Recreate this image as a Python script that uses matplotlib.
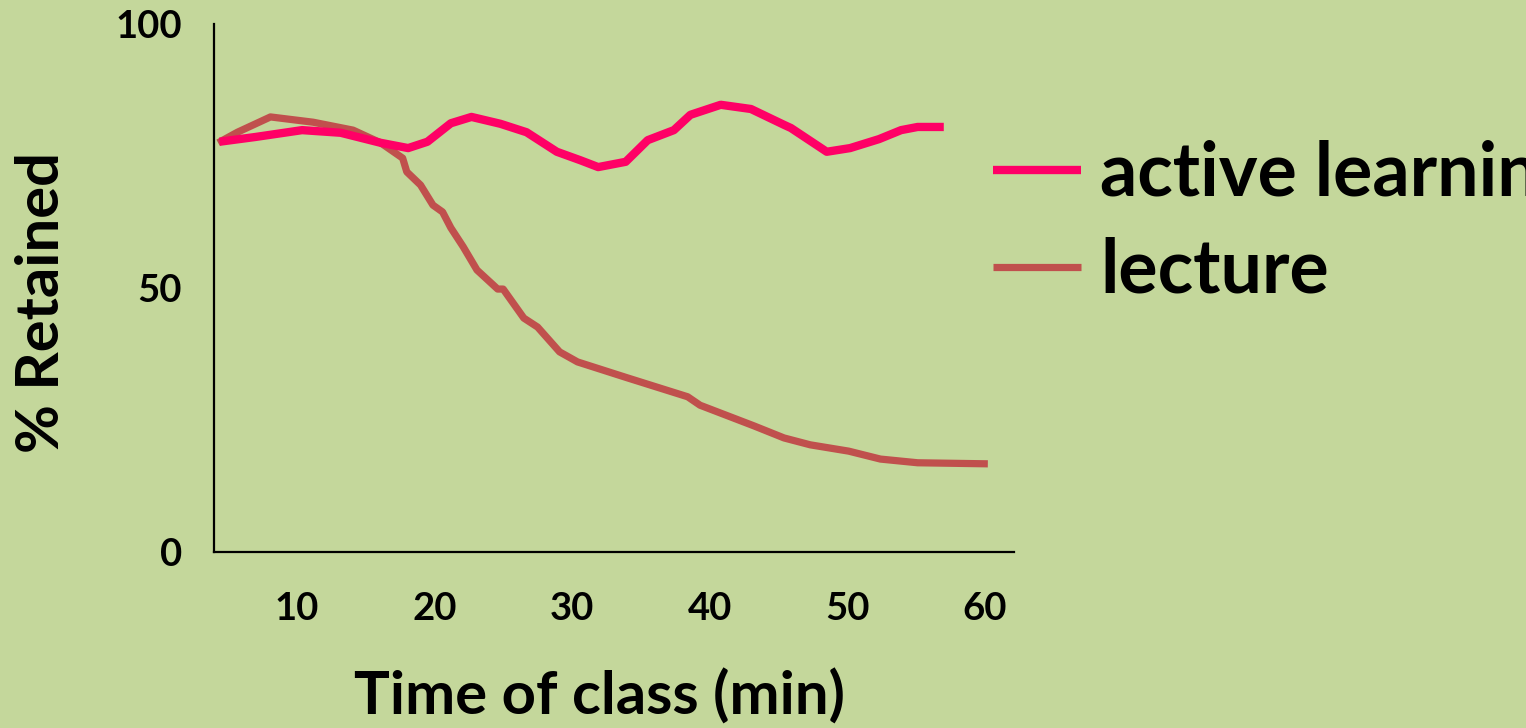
import matplotlib
matplotlib.use("Agg")
import matplotlib.pyplot as plt

# Data
active_x = [4.4, 7.0, 10.4, 13.2, 16.1, 18.1, 19.5, 21.2, 22.7, 24.8, 26.7, 28.9, 30.6,
            31.9, 33.9, 35.5, 37.4, 38.6, 40.8, 43.0, 45.4, 45.9, 48.5, 50.2, 52.3,
            53.9, 55.1, 57.0]
active_y = [77.7, 78.6, 79.9, 79.4, 77.5, 76.5, 77.7, 81.2, 82.4, 81.1, 79.5, 75.8, 74.2,
            72.9, 73.9, 78.0, 79.9, 82.8, 84.7, 83.9, 80.9, 80.3, 75.8, 76.5, 78.2,
            79.9, 80.5, 80.5]

lecture_x = [4.3, 5.7, 8.1, 11.2, 14.1, 16.1, 17.7, 18.0, 19.0, 19.9, 20.6, 21.2, 22.1,
             23.1, 24.6, 25.0, 26.5, 27.5, 29.1, 30.4, 34.0, 38.4, 39.3, 43.2, 45.4,
             47.3, 50.1, 52.4, 55.1, 60.2]
lecture_y = [77.5, 79.5, 82.4, 81.4, 79.9, 77.5, 74.6, 72.0, 69.5, 65.7, 64.4, 61.4, 57.8,
             53.4, 49.8, 49.8, 44.3, 42.6, 37.9, 36.0, 33.0, 29.4, 27.8, 23.9, 21.6,
             20.3, 19.1, 17.6, 16.9, 16.7]

series_labels = ["active learning", "lecture"]
x_ticks = [10, 20, 30, 40, 50, 60]
y_ticks = [0, 50, 100]
x_label = "Time of class (min)"
y_label = "% Retained"

BG = "#C4D79B"
ACTIVE = "#FF0066"
LECTURE = "#C0504D"

plt.rcParams['font.family'] = ['Lato', 'DejaVu Sans']
plt.rcParams['font.weight'] = 'bold'

W, H = 1526, 728
fig = plt.figure(figsize=(W / 100, H / 100), dpi=100, facecolor=BG)
ax = fig.add_axes([214 / W, (H - 552) / H, (1014 - 214) / W, (552 - 24) / H])
ax.set_facecolor(BG)

l1, = ax.plot(active_x, active_y, color=ACTIVE, lw=6, solid_capstyle='butt',
              solid_joinstyle='round', zorder=3)
l2, = ax.plot(lecture_x, lecture_y, color=LECTURE, lw=5.2, solid_capstyle='butt',
              solid_joinstyle='round', zorder=2)

ax.set_xlim(4, 62.1)
ax.set_ylim(0, 100)
ax.set_xticks(x_ticks)
ax.set_yticks(y_ticks)
ax.tick_params(axis='both', length=0, labelsize=27.5)
ax.tick_params(axis='x', pad=29)
ax.tick_params(axis='y', pad=23)
for lab in ax.get_xticklabels() + ax.get_yticklabels():
    lab.set_fontweight('bold')

for s in ['top', 'right']:
    ax.spines[s].set_visible(False)
for s in ['left', 'bottom']:
    ax.spines[s].set_linewidth(1.6)
    ax.spines[s].set_color('black')

fig.text(600 / W, 1 - 697 / H, x_label, ha='center', va='center',
         fontsize=43, fontweight='bold')
fig.text(42 / W, 1 - 302 / H, y_label, ha='center', va='center',
         fontsize=43, fontweight='bold', rotation=90)

leg = fig.legend([l1, l2], series_labels, loc='upper left',
                 bbox_to_anchor=(993 / W, 1 - 140 / H), frameon=False,
                 prop={'size': 53, 'weight': 'bold'}, handlelength=1.2,
                 handletextpad=0.26, labelspacing=0.35, borderaxespad=0,
                 borderpad=0)

fig.savefig("out.png", dpi=100, facecolor=BG)
